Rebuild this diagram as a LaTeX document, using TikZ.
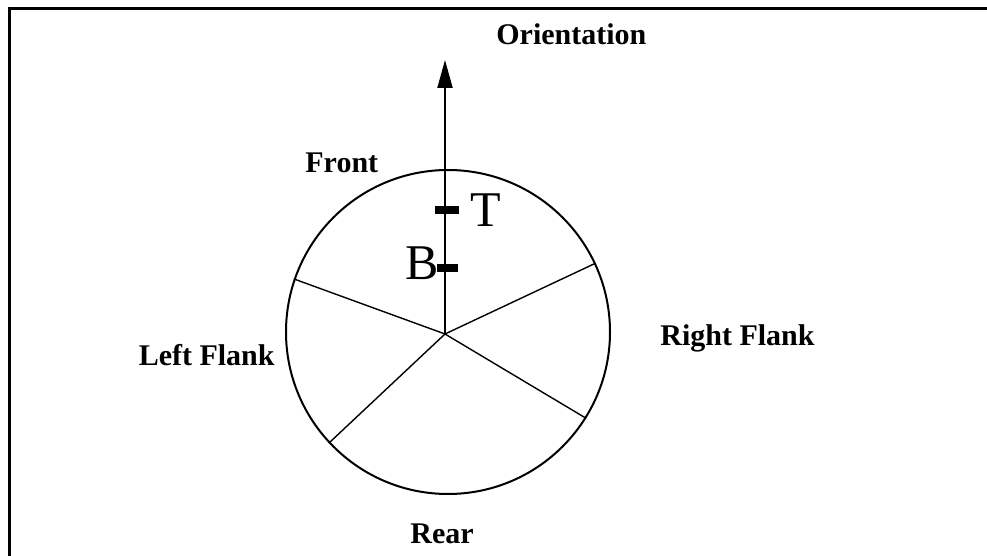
\documentclass[tikz,border=0pt]{standalone}
\usepackage{fontspec}
\setmainfont{Liberation Serif}
\usetikzlibrary{arrows.meta,positioning,calc}

\begin{document}
\begin{tikzpicture}[
  x=0.5pt, y=-0.5pt,
  every node/.style={inner sep=0pt},
  lbl/.style={font=\bfseries\fontsize{15}{18}\selectfont, anchor=base west},
  end/.style={font=\fontsize{25}{28}\selectfont, anchor=base west},
  spoke/.style={line width=0.7pt},
  ticbar/.style={line width=4pt},
]
\useasboundingbox (0,0) rectangle (987,556);
% Frame (only left and top edges show)
\draw[line width=1.8pt] (9.5,556) -- (9.5,8.5) -- (987,8.5);
% Sector circle
\node[draw, circle, line width=1pt, minimum size=162pt] (field) at (448,332) {};
\coordinate (hub) at (445,334);
% Spokes
\draw[spoke] (hub) -- (field.161);
\draw[spoke] (hub) -- (field.25);
\draw[spoke] (hub) -- (field.-32);
\draw[spoke] (hub) -- (field.223);
% Orientation arrow
\coordinate (tip) at (445,60);
\draw[line width=1pt, -{Triangle[length=14pt,width=7.5pt]}] (hub) -- (tip);
% Marks on the axis
\coordinate (tmark) at (445,210);
\coordinate (bmark) at (445,268);
\draw[ticbar] ($(tmark)+(-10,0)$) -- ($(tmark)+(14,0)$);
\draw[ticbar] ($(bmark)+(-8,0)$) -- ($(bmark)+(13,0)$);
\node[end] (tlbl) at (470,227) {T};
\node[end] (blbl) at (405,280) {B};
% Sector labels
\node[lbl] (orient) at (496,45) {Orientation};
\node[lbl] (front) at (305,173) {Front};
\node[lbl] (right) at (660,345) {Right Flank};
\node[lbl, anchor=base east] (left) at (275,365) {Left Flank};
\node[lbl] (rear) at (410,543) {Rear};
\end{tikzpicture}
\end{document}
